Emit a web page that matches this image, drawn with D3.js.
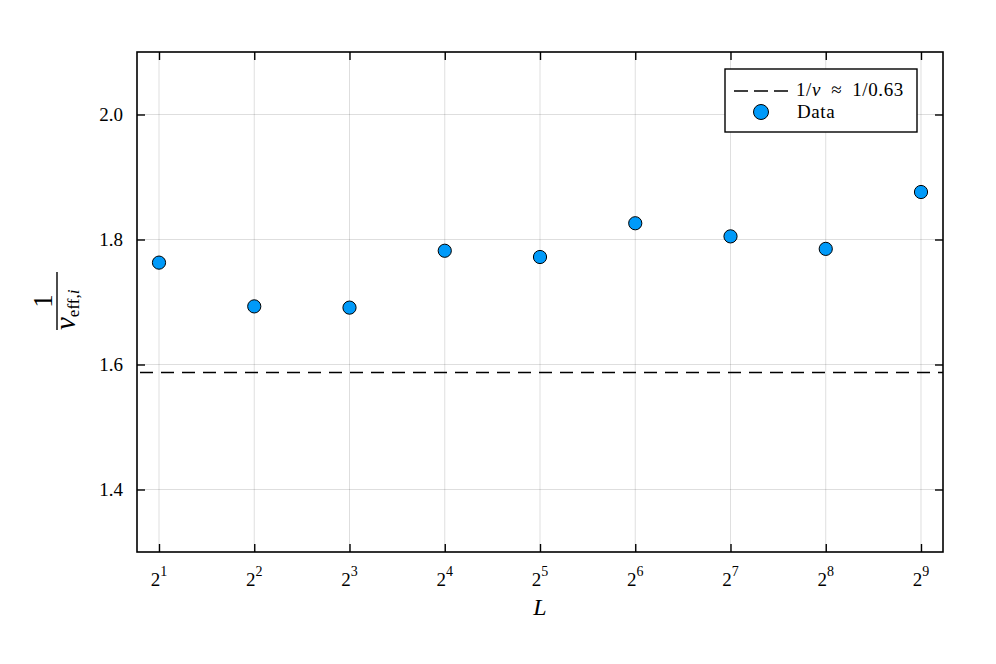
<!DOCTYPE html>
<html>
<head>
<meta charset="utf-8">
<script src="https://cdn.jsdelivr.net/npm/d3@7"></script>
<style>
  body { margin: 0; background: #fff; }
  text { font-family: "Liberation Serif", "DejaVu Serif", serif; }
</style>
</head>
<body>
<div class="container"></div>
<script>
// values
const exponents = [1, 2, 3, 4, 5, 6, 7, 8, 9],
    nuInv = [1.763, 1.693, 1.691, 1.782, 1.772, 1.826, 1.805, 1.785, 1.876],
    yTicks = [1.4, 1.6, 1.8, 2.0],
    refNu = 0.63;

const W = 996, H = 664,
    margin = {top: 52, right: 53, bottom: 112, left: 137};

const width = W - margin.left - margin.right,
    height = H - margin.top - margin.bottom;

const svg = d3.select('.container')
    .append('svg')
    .attr('width', W)
    .attr('height', H);

const xScale = d3.scaleLog()
    .base(2)
    .domain([Math.pow(2, 0.769), Math.pow(2, 9.231)])
    .range([margin.left, margin.left + width]);

const yScale = d3.scaleLinear()
    .domain([1.3, 2.1])
    .range([margin.top + height, margin.top]);

const data = exponents.map((e, i) => ({L: Math.pow(2, e), v: nuInv[i]}));
const xTicks = exponents.map(e => Math.pow(2, e));

// grid
const grid = svg.append('g');
grid.selectAll('.gx').data(xTicks).enter().append('line')
    .attr('x1', d => xScale(d)).attr('x2', d => xScale(d))
    .attr('y1', margin.top).attr('y2', margin.top + height)
    .attr('stroke', '#000').attr('stroke-opacity', 0.13).attr('stroke-width', 1);
grid.selectAll('.gy').data(yTicks).enter().append('line')
    .attr('x1', margin.left).attr('x2', margin.left + width)
    .attr('y1', d => yScale(d)).attr('y2', d => yScale(d))
    .attr('stroke', '#000').attr('stroke-opacity', 0.13).attr('stroke-width', 1);

// axes with inward ticks on all sides
const tk = 8;
const xAxisB = d3.axisBottom(xScale).tickValues(xTicks).tickSize(-tk).tickFormat('');
const xAxisT = d3.axisTop(xScale).tickValues(xTicks).tickSize(-tk).tickFormat('');
const yAxisL = d3.axisLeft(yScale).tickValues(yTicks).tickSize(-tk).tickFormat('');
const yAxisR = d3.axisRight(yScale).tickValues(yTicks).tickSize(-tk).tickFormat('');

function styleAxis(g) {
    g.select('.domain').remove();
    g.selectAll('.tick line').attr('stroke', '#000').attr('stroke-width', 1.4);
}
svg.append('g').attr('transform', `translate(0,${margin.top + height})`).call(xAxisB).call(styleAxis);
svg.append('g').attr('transform', `translate(0,${margin.top})`).call(xAxisT).call(styleAxis);
svg.append('g').attr('transform', `translate(${margin.left},0)`).call(yAxisL).call(styleAxis);
svg.append('g').attr('transform', `translate(${margin.left + width},0)`).call(yAxisR).call(styleAxis);

// tick labels
svg.selectAll('.ylab').data(yTicks).enter().append('text')
    .attr('x', margin.left - 14)
    .attr('y', d => yScale(d) + 6.5)
    .attr('text-anchor', 'end')
    .attr('font-size', 19)
    .text(d => d.toFixed(1));

const xl = svg.selectAll('.xlab').data(exponents).enter().append('text')
    .attr('x', d => xScale(Math.pow(2, d)))
    .attr('y', 586)
    .attr('text-anchor', 'middle')
    .attr('font-size', 19);
xl.append('tspan').text('2');
xl.append('tspan').attr('dy', -10).attr('font-size', 14).text(d => d);

// axis labels
svg.append('text')
    .attr('x', margin.left + width / 2)
    .attr('y', 615)
    .attr('text-anchor', 'middle')
    .attr('font-size', 24)
    .attr('font-style', 'italic')
    .text('L');

const yl = svg.append('g').attr('transform', 'translate(57,301) rotate(-90)');
yl.append('line').attr('x1', -29).attr('x2', 29).attr('y1', 0).attr('y2', 0)
    .attr('stroke', '#000').attr('stroke-width', 1.4);
yl.append('text').attr('x', 0).attr('y', -5).attr('text-anchor', 'middle')
    .attr('font-size', 27).text('1');
const yn = yl.append('text').attr('x', -29).attr('y', 18)
    .attr('font-size', 29);
yn.append('tspan').attr('font-style', 'italic').text('ν');
yn.append('tspan').attr('font-size', 17).attr('dy', 4).text('eff,');
yn.append('tspan').attr('font-size', 17).attr('font-style', 'italic').text('i');

// reference line
svg.append('line')
    .attr('x1', margin.left).attr('x2', margin.left + width)
    .attr('y1', yScale(1 / refNu)).attr('y2', yScale(1 / refNu))
    .attr('stroke', '#000').attr('stroke-width', 1.4)
    .attr('stroke-dasharray', '13,8')
    .attr('stroke-dashoffset', -3);

// points
svg.selectAll('.pt').data(data).enter().append('circle')
    .attr('cx', d => xScale(d.L))
    .attr('cy', d => yScale(d.v))
    .attr('r', 6.6)
    .attr('fill', '#009af9')
    .attr('stroke', '#000')
    .attr('stroke-width', 1);

// frame
svg.append('rect')
    .attr('x', margin.left).attr('y', margin.top)
    .attr('width', width).attr('height', height)
    .attr('fill', 'none').attr('stroke', '#000').attr('stroke-width', 1.6);

// legend
const lg = svg.append('g').attr('transform', 'translate(725,69)');
lg.append('rect').attr('width', 192).attr('height', 63)
    .attr('fill', '#fff').attr('stroke', '#000').attr('stroke-width', 1.4);
lg.append('line').attr('x1', 9).attr('x2', 63).attr('y1', 22).attr('y2', 22)
    .attr('stroke', '#000').attr('stroke-width', 1.4).attr('stroke-dasharray', '14,6');
const lt = lg.append('text').attr('x', 71).attr('y', 27).attr('font-size', 19)
    .attr('letter-spacing', 0.6);
lt.append('tspan').text('1/');
lt.append('tspan').attr('font-style', 'italic').text('ν');
lt.append('tspan').text('\u2002≈\u20021/0.63');
lg.append('circle').attr('cx', 36).attr('cy', 43).attr('r', 7.5)
    .attr('fill', '#009af9').attr('stroke', '#000').attr('stroke-width', 1);
lg.append('text').attr('x', 72).attr('y', 49).attr('font-size', 19)
    .attr('letter-spacing', 0.6).text('Data');
</script>
</body>
</html>
